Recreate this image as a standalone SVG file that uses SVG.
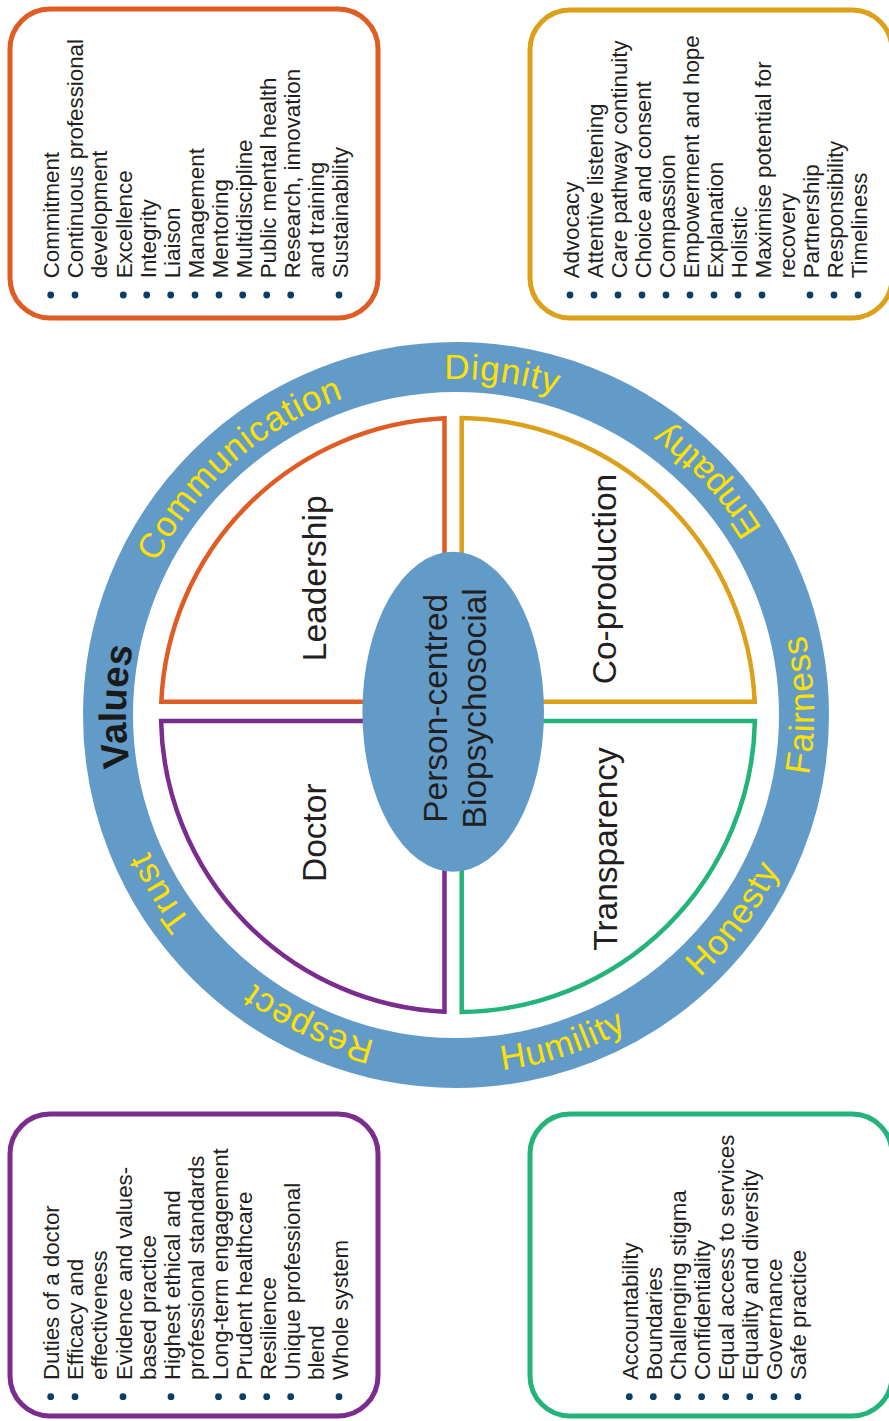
<svg xmlns="http://www.w3.org/2000/svg" width="889" height="1421" viewBox="0 0 889 1421">
<defs>
<style>
.box{fill:#fff;stroke-width:5}
.lst{font-family:"Liberation Sans",Arial,Helvetica,sans-serif;font-size:22.3px;fill:#231f20}
.dot{fill:#0b3d66}
.quad{fill:#fff;stroke-width:4.5}
.lbl{font-family:"Liberation Sans",Arial,Helvetica,sans-serif;font-size:33.5px;fill:#231f20;text-anchor:middle}
.ring{font-family:"Liberation Sans",Arial,Helvetica,sans-serif;font-size:35px;fill:#ffe100;letter-spacing:1px;text-anchor:middle}
.val{font-family:"Liberation Sans",Arial,Helvetica,sans-serif;font-size:38px;font-weight:bold;fill:#1a1a1a;text-anchor:middle}
</style>
<path id="cw" d="M792,715 A336,336 0 1 1 120,715 A336,336 0 1 1 792,715"/>
<path id="cwv" d="M786,715 A330,330 0 1 1 126,715 A330,330 0 1 1 786,715"/>
<path id="ccw" d="M98,715 A358,358 0 1 0 814,715 A358,358 0 1 0 98,715"/>
</defs>
<rect width="889" height="1421" fill="#fff"/>

<g id="box-leadership">
<rect class="box" x="10" y="9" width="368" height="309" rx="40" stroke="#df5c25"/>
<g class="dot">
<circle cx="50.7" cy="295" r="3.4"/><circle cx="75" cy="295" r="3.4"/><circle cx="123.3" cy="295" r="3.4"/><circle cx="146.7" cy="295" r="3.4"/><circle cx="170.7" cy="295" r="3.4"/><circle cx="195" cy="295" r="3.4"/><circle cx="219" cy="295" r="3.4"/><circle cx="242.7" cy="295" r="3.4"/><circle cx="266.7" cy="295" r="3.4"/><circle cx="290.7" cy="295" r="3.4"/><circle cx="339" cy="295" r="3.4"/>
</g>
<g class="lst" transform="translate(0,278.3) rotate(-90)">
<text x="0" y="59.4">Commitment</text>
<text x="0" y="83.4">Continuous professional</text>
<text x="0" y="107.4">development</text>
<text x="0" y="131.5">Excellence</text>
<text x="0" y="155.5">Integrity</text>
<text x="0" y="179.5">Liaison</text>
<text x="0" y="203.5">Management</text>
<text x="0" y="227.5">Mentoring</text>
<text x="0" y="251.6">Multidiscipline</text>
<text x="0" y="275.6">Public mental health</text>
<text x="0" y="299.6">Research, innovation</text>
<text x="0" y="323.6">and training</text>
<text x="0" y="347.6">Sustainability</text>
</g>
</g>

<g id="box-coproduction">
<rect class="box" x="530" y="10" width="362" height="308" rx="40" stroke="#dca01a"/>
<g class="dot">
<circle cx="570" cy="295" r="3.4"/><circle cx="594" cy="295" r="3.4"/><circle cx="618" cy="295" r="3.4"/><circle cx="642" cy="295" r="3.4"/><circle cx="666" cy="295" r="3.4"/><circle cx="690" cy="295" r="3.4"/><circle cx="714" cy="295" r="3.4"/><circle cx="738" cy="295" r="3.4"/><circle cx="762" cy="295" r="3.4"/><circle cx="810" cy="295" r="3.4"/><circle cx="834" cy="295" r="3.4"/><circle cx="858" cy="295" r="3.4"/>
</g>
<g class="lst" transform="translate(0,278.3) rotate(-90)">
<text x="0" y="578.7">Advocacy</text>
<text x="0" y="602.7">Attentive listening</text>
<text x="0" y="626.7">Care pathway continuity</text>
<text x="0" y="650.7">Choice and consent</text>
<text x="0" y="674.7">Compassion</text>
<text x="0" y="698.7">Empowerment and hope</text>
<text x="0" y="722.7">Explanation</text>
<text x="0" y="746.7">Holistic</text>
<text x="0" y="770.7">Maximise potential for</text>
<text x="0" y="794.7">recovery</text>
<text x="0" y="818.7">Partnership</text>
<text x="0" y="842.7">Responsibility</text>
<text x="0" y="866.7">Timeliness</text>
</g>
</g>

<g id="box-doctor">
<rect class="box" x="10" y="1114" width="368" height="302" rx="40" stroke="#7b2d8e"/>
<g class="dot">
<circle cx="50.7" cy="1396.7" r="3.4"/><circle cx="75" cy="1396.7" r="3.4"/><circle cx="123" cy="1396.7" r="3.4"/><circle cx="171" cy="1396.7" r="3.4"/><circle cx="218.5" cy="1396.7" r="3.4"/><circle cx="242.7" cy="1396.7" r="3.4"/><circle cx="266.7" cy="1396.7" r="3.4"/><circle cx="290.7" cy="1396.7" r="3.4"/><circle cx="339" cy="1396.7" r="3.4"/>
</g>
<g class="lst" transform="translate(0,1380) rotate(-90)">
<text x="0" y="59.4">Duties of a doctor</text>
<text x="0" y="83.4">Efficacy and</text>
<text x="0" y="107.4">effectiveness</text>
<text x="0" y="131.5">Evidence and values-</text>
<text x="0" y="155.5">based practice</text>
<text x="0" y="179.5">Highest ethical and</text>
<text x="0" y="203.5">professional standards</text>
<text x="0" y="227.5">Long-term engagement</text>
<text x="0" y="251.6">Prudent healthcare</text>
<text x="0" y="275.6">Resilience</text>
<text x="0" y="299.6">Unique professional</text>
<text x="0" y="323.6">blend</text>
<text x="0" y="347.6">Whole system</text>
</g>
</g>

<g id="box-transparency">
<rect class="box" x="530" y="1114" width="362" height="302" rx="40" stroke="#24b47b"/>
<g class="dot">
<circle cx="629.3" cy="1396.7" r="3.4"/><circle cx="653.3" cy="1396.7" r="3.4"/><circle cx="677.5" cy="1396.7" r="3.4"/><circle cx="701.6" cy="1396.7" r="3.4"/><circle cx="725.7" cy="1396.7" r="3.4"/><circle cx="749.8" cy="1396.7" r="3.4"/><circle cx="773.9" cy="1396.7" r="3.4"/><circle cx="797.9" cy="1396.7" r="3.4"/>
</g>
<g class="lst" transform="translate(0,1380) rotate(-90)">
<text x="0" y="638">Accountability</text>
<text x="0" y="662.05">Boundaries</text>
<text x="0" y="686.1">Challenging stigma</text>
<text x="0" y="710.15">Confidentiality</text>
<text x="0" y="734.2">Equal access to services</text>
<text x="0" y="758.25">Equality and diversity</text>
<text x="0" y="782.3">Governance</text>
<text x="0" y="806.35">Safe practice</text>
</g>
</g>

<g id="values-ring">
<circle cx="456" cy="715" r="348" fill="none" stroke="#629bc8" stroke-width="50"/>
<text class="val"><textPath href="#cwv" startOffset="1045">Values</textPath></text>
<text class="ring"><textPath href="#cw" startOffset="1341">Communication</textPath></text>
<text class="ring"><textPath href="#cw" startOffset="1628">Dignity</textPath></text>
<text class="ring"><textPath href="#cw" startOffset="677">Respect</textPath></text>
<text class="ring"><textPath href="#cw" startOffset="874">Trust</textPath></text>
<text class="ring"><textPath href="#ccw" startOffset="1393">Empathy</textPath></text>
<text class="ring"><textPath href="#ccw" startOffset="1135">Fairness</textPath></text>
<text class="ring"><textPath href="#ccw" startOffset="898">Honesty</textPath></text>
<text class="ring"><textPath href="#ccw" startOffset="675">Humility</textPath></text>
</g>

<g id="quad-leadership">
<path class="quad" stroke="#df5c25" d="M444.5,701.7 L444.5,418.3 A297,297 0 0 0 161.3,701.7 Z"/>
<text class="lbl" transform="translate(325.5,578.3) rotate(-90)">Leadership</text>
</g>
<g id="quad-coproduction">
<path class="quad" stroke="#dca01a" d="M461.7,701.7 L461.7,418 A297,297 0 0 1 754.7,701.7 Z"/>
<text class="lbl" transform="translate(616,579) rotate(-90)">Co-production</text>
</g>
<g id="quad-doctor">
<path class="quad" stroke="#7b2d8e" d="M444.5,721 L444.5,1011.7 A297,297 0 0 1 161.1,721 Z"/>
<text class="lbl" transform="translate(326,832.7) rotate(-90)">Doctor</text>
</g>
<g id="quad-transparency">
<path class="quad" stroke="#24b47b" d="M461.7,721 L461.7,1012 A297,297 0 0 0 754.9,721 Z"/>
<text class="lbl" transform="translate(617,849) rotate(-90)">Transparency</text>
</g>

<g id="centre">
<ellipse cx="453.2" cy="711.7" rx="90.8" ry="160" fill="#629bc8"/>
<text class="lbl" transform="translate(447.2,708.3) rotate(-90)">Person-centred</text>
<text class="lbl" transform="translate(485.5,708.3) rotate(-90)">Biopsychosocial</text>
</g>

<g id="connectors"/>
</svg>
